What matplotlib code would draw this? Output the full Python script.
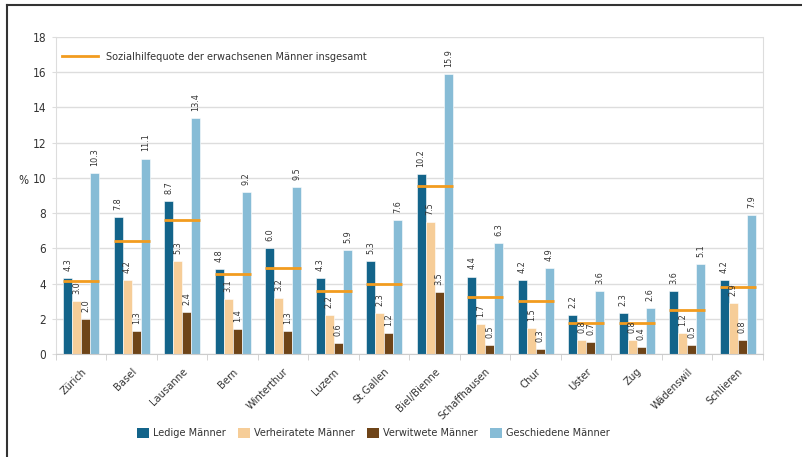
import matplotlib
matplotlib.use("Agg")
import matplotlib.pyplot as plt
import numpy as np
from matplotlib.patches import Patch
from matplotlib.lines import Line2D

plt.rcParams['font.family'] = ['DejaVu Sans']
plt.rcParams['font.stretch'] = 'condensed'

cities = ["Zürich", "Basel", "Lausanne", "Bern", "Winterthur", "Luzern", "St.Gallen",
          "Biel/Bienne", "Schaffhausen", "Chur", "Uster", "Zug", "Wädenswil", "Schlieren"]
ledige = [4.3, 7.8, 8.7, 4.8, 6.0, 4.3, 5.3, 10.2, 4.4, 4.2, 2.2, 2.3, 3.6, 4.2]
verheiratete = [3.0, 4.2, 5.3, 3.1, 3.2, 2.2, 2.3, 7.5, 1.7, 1.5, 0.8, 0.8, 1.2, 2.9]
verwitwete = [2.0, 1.3, 2.4, 1.4, 1.3, 0.6, 1.2, 3.5, 0.5, 0.3, 0.7, 0.4, 0.5, 0.8]
geschiedene = [10.3, 11.1, 13.4, 9.2, 9.5, 5.9, 7.6, 15.9, 6.3, 4.9, 3.6, 2.6, 5.1, 7.9]
quote = [4.15, 6.4, 7.6, 4.55, 4.9, 3.55, 4.0, 9.55, 3.25, 3.0, 1.75, 1.75, 2.5, 3.8]

series = [("Ledige Männer", ledige, "#13648A"),
          ("Verheiratete Männer", verheiratete, "#F6CD98"),
          ("Verwitwete Männer", verwitwete, "#6E4418"),
          ("Geschiedene Männer", geschiedene, "#87BCD6")]

fig = plt.figure(figsize=(8.03, 4.57), dpi=100)
ax = fig.add_axes([56/803, 1-354/457, (763-56)/803, (354-37)/457])

x = np.arange(len(cities))
bw = 0.18
for i, (name, vals, col) in enumerate(series):
    pos = x + (i - 1.5) * bw
    ax.bar(pos, vals, width=bw, color=col, edgecolor='white', linewidth=0.4, zorder=2)
    for xp, v in zip(pos, vals):
        ax.text(xp, v + 0.4, f"{v:.1f}", rotation=90, ha='center', va='bottom',
                fontsize=6.5, color='#333333', zorder=4)

ax.hlines(quote, x - 2*bw, x + 2*bw, color='#F29C1F', linewidth=2, zorder=3)

ax.set_xlim(-0.5, len(cities) - 0.5)
ax.set_ylim(0, 18)
ax.set_yticks(np.arange(0, 19, 2))
ax.yaxis.grid(True, color='#DDDDDD', linewidth=1, zorder=0)
ax.set_axisbelow(True)
for s in ['left', 'right', 'top', 'bottom']:
    ax.spines[s].set_color('#DDDDDD')
ax.spines['top'].set_visible(False)
ax.spines['bottom'].set_color('#CCCCCC')
ax.tick_params(axis='y', length=3, color='#DDDDDD', labelsize=8.5, labelcolor='#333333', pad=4)
ax.set_xticks(x)
ax.set_xticklabels(cities, rotation=45, ha='right', rotation_mode='anchor', fontsize=8, color='#333333')
ax.tick_params(axis='x', length=0, pad=9)
ax.set_xticks(np.arange(-0.5, len(cities), 1), minor=True)
ax.tick_params(axis='x', which='minor', length=4, color='#CCCCCC')

fig.text(18/803, 1-180/457, "%", fontsize=8.5, color='#333333', va='center')

ax.legend([Line2D([0], [0], color='#F29C1F', lw=2)],
          ["Sozialhilfequote der erwachsenen Männer insgesamt"],
          loc='upper left', bbox_to_anchor=(-0.006, 0.985), frameon=False,
          fontsize=7.8, handlelength=3.4, handletextpad=0.7, labelcolor='#333333')

handles = [Patch(facecolor=c, edgecolor='none') for _, _, c in series]
fig.legend(handles, [n for n, _, _ in series], loc='center', ncol=4,
           bbox_to_anchor=(0.465, 1-433/457), frameon=False, fontsize=7.8,
           handlelength=1.1, handleheight=1.1, handletextpad=0.4, columnspacing=1.1,
           labelcolor='#333333')

fig.add_artist(Line2D([7/803, 7/803], [0, 1-5/457], transform=fig.transFigure, color='#333333', lw=1.5))
fig.add_artist(Line2D([7/803, 1], [1-5/457, 1-5/457], transform=fig.transFigure, color='#333333', lw=1.5))

fig.savefig("out.png", dpi=100)
